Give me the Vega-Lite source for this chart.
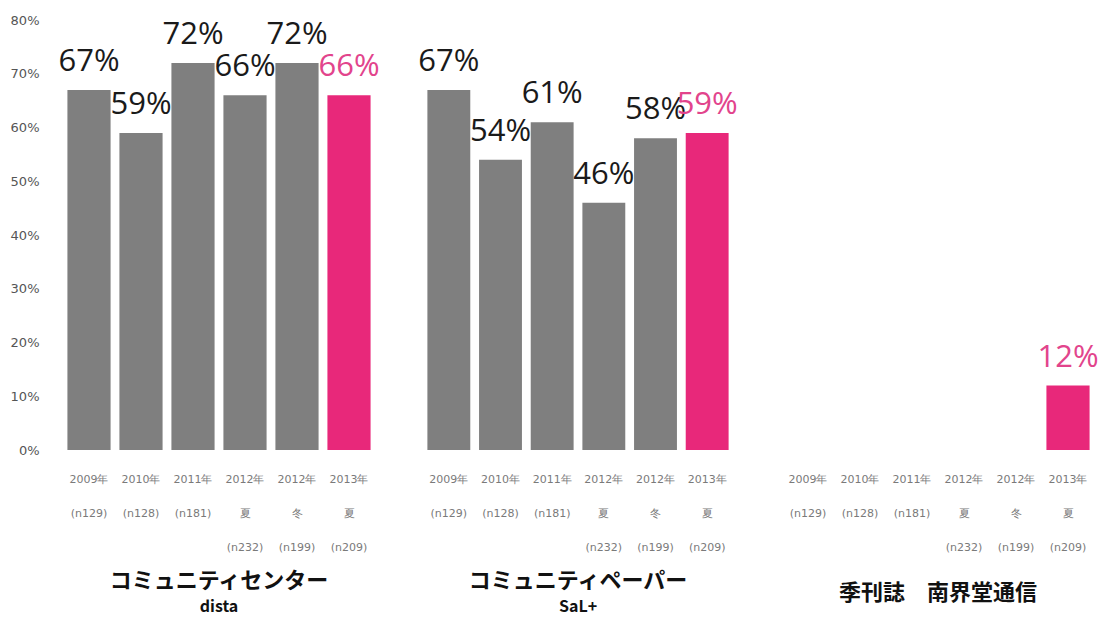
{
  "$schema": "https://vega.github.io/schema/vega-lite/v6.json",
  "background": "white",
  "padding": {"left": 10, "top": 14, "right": 0, "bottom": 6},
  "spacing": 44,
  "config": {
    "view": {"stroke": null},
    "font": "Noto Sans CJK JP"
  },
  "data": {
    "values": [
      {"media": "center", "cat": "2009年|(n129)", "value": 0.67, "latest": "no"},
      {"media": "center", "cat": "2010年|(n128)", "value": 0.59, "latest": "no"},
      {"media": "center", "cat": "2011年|(n181)", "value": 0.72, "latest": "no"},
      {"media": "center", "cat": "2012年|夏|(n232)", "value": 0.66, "latest": "no"},
      {"media": "center", "cat": "2012年|冬|(n199)", "value": 0.72, "latest": "no"},
      {"media": "center", "cat": "2013年|夏|(n209)", "value": 0.66, "latest": "yes"},
      {"media": "paper", "cat": "2009年|(n129)", "value": 0.67, "latest": "no"},
      {"media": "paper", "cat": "2010年|(n128)", "value": 0.54, "latest": "no"},
      {"media": "paper", "cat": "2011年|(n181)", "value": 0.61, "latest": "no"},
      {"media": "paper", "cat": "2012年|夏|(n232)", "value": 0.46, "latest": "no"},
      {"media": "paper", "cat": "2012年|冬|(n199)", "value": 0.58, "latest": "no"},
      {"media": "paper", "cat": "2013年|夏|(n209)", "value": 0.59, "latest": "yes"},
      {"media": "quarterly", "cat": "2013年|夏|(n209)", "value": 0.12, "latest": "yes"}
    ]
  },
  "hconcat": [
    {
      "spacing": 38,
      "hconcat": [
        {
          "width": 312,
          "height": 430,
          "title": {"text": "コミュニティセンター", "subtitle": "dista", "orient": "bottom", "anchor": "middle", "fontSize": 22, "fontWeight": "bold", "color": "#111", "subtitleFontSize": 16, "subtitleFontWeight": "bold", "subtitleColor": "#111", "subtitleFont": "Noto Sans CJK JP", "subtitlePadding": 6, "offset": 19},
          "transform": [{"filter": "datum.media === 'center'"}],
          "encoding": {
            "x": {"field": "cat", "type": "nominal", "sort": null,
              "scale": {"domain": ["2009年|(n129)", "2010年|(n128)", "2011年|(n181)", "2012年|夏|(n232)", "2012年|冬|(n199)", "2013年|夏|(n209)"], "paddingInner": 0.17, "paddingOuter": 0.085},
              "axis": {"title": null, "labelAngle": 0, "domain": false, "ticks": false, "tickSize": 0, "labelPadding": 23, "labelBaseline": "top", "labelExpr": "split(datum.value, '|')", "labelLineHeight": 34, "labelFontSize": 11, "labelColor": "#7a7a7a", "labelFont": "DejaVu Sans"}},
            "y": {"field": "value", "type": "quantitative", "scale": {"domain": [0, 0.8]},
              "axis": {"title": null, "format": ".0%", "values": [0, 0.1, 0.2, 0.3, 0.4, 0.5, 0.6, 0.7, 0.8], "grid": false, "domain": false, "ticks": false, "tickSize": 0, "labelPadding": 24, "labelFontSize": 13, "labelColor": "#555", "labelFont": "DejaVu Sans"}}
          },
          "layer": [
            {"mark": {"type": "bar"},
              "encoding": {"color": {"condition": {"test": "datum.latest === 'yes'", "value": "#e8287a"}, "value": "#7f7f7f"}}},
            {"mark": {"type": "text", "baseline": "alphabetic", "dy": -19, "fontSize": 31, "font": "Open Sans"},
              "encoding": {"text": {"field": "value", "type": "quantitative", "format": ".0%"},
                "color": {"condition": {"test": "datum.latest === 'yes'", "value": "#e2448c"}, "value": "#1a1a1a"}}}
          ]
        },
        {
          "width": 310,
          "height": 430,
          "title": {"text": "コミュニティペーパー", "subtitle": "SaL+", "orient": "bottom", "anchor": "middle", "fontSize": 22, "fontWeight": "bold", "color": "#111", "subtitleFontSize": 16, "subtitleFontWeight": "bold", "subtitleColor": "#111", "subtitleFont": "Noto Sans CJK JP", "subtitlePadding": 6, "offset": 19},
          "transform": [{"filter": "datum.media === 'paper'"}],
          "encoding": {
            "x": {"field": "cat", "type": "nominal", "sort": null,
              "scale": {"domain": ["2009年|(n129)", "2010年|(n128)", "2011年|(n181)", "2012年|夏|(n232)", "2012年|冬|(n199)", "2013年|夏|(n209)"], "paddingInner": 0.17, "paddingOuter": 0.085},
              "axis": {"title": null, "labelAngle": 0, "domain": false, "ticks": false, "tickSize": 0, "labelPadding": 23, "labelBaseline": "top", "labelExpr": "split(datum.value, '|')", "labelLineHeight": 34, "labelFontSize": 11, "labelColor": "#7a7a7a", "labelFont": "DejaVu Sans"}},
            "y": {"field": "value", "type": "quantitative", "scale": {"domain": [0, 0.8]}, "axis": null}
          },
          "layer": [
            {"mark": {"type": "bar"},
              "encoding": {"color": {"condition": {"test": "datum.latest === 'yes'", "value": "#e8287a"}, "value": "#7f7f7f"}}},
            {"mark": {"type": "text", "baseline": "alphabetic", "dy": -19, "fontSize": 31, "font": "Open Sans"},
              "encoding": {"text": {"field": "value", "type": "quantitative", "format": ".0%"},
                "color": {"condition": {"test": "datum.latest === 'yes'", "value": "#e2448c"}, "value": "#1a1a1a"}}}
          ]
        }
      ]
    },
    {
      "width": 312,
      "height": 430,
      "title": {"text": "季刊誌　南界堂通信", "orient": "bottom", "anchor": "middle", "fontSize": 22, "fontWeight": "bold", "color": "#111", "offset": 31},
      "transform": [{"filter": "datum.media === 'quarterly'"}],
      "encoding": {
        "x": {"field": "cat", "type": "nominal", "sort": null,
          "scale": {"domain": ["2009年|(n129)", "2010年|(n128)", "2011年|(n181)", "2012年|夏|(n232)", "2012年|冬|(n199)", "2013年|夏|(n209)"], "paddingInner": 0.17, "paddingOuter": 0.085},
          "axis": {"title": null, "labelAngle": 0, "domain": false, "ticks": false, "tickSize": 0, "labelPadding": 23, "labelBaseline": "top", "labelExpr": "split(datum.value, '|')", "labelLineHeight": 34, "labelFontSize": 11, "labelColor": "#7a7a7a", "labelFont": "DejaVu Sans"}},
        "y": {"field": "value", "type": "quantitative", "scale": {"domain": [0, 0.8]}, "axis": null}
      },
      "layer": [
        {"mark": {"type": "bar"},
          "encoding": {"color": {"condition": {"test": "datum.latest === 'yes'", "value": "#e8287a"}, "value": "#7f7f7f"}}},
        {"mark": {"type": "text", "baseline": "alphabetic", "dy": -19, "fontSize": 31, "font": "Open Sans"},
          "encoding": {"text": {"field": "value", "type": "quantitative", "format": ".0%"},
            "color": {"condition": {"test": "datum.latest === 'yes'", "value": "#e2448c"}, "value": "#1a1a1a"}}}
      ]
    }
  ]
}
